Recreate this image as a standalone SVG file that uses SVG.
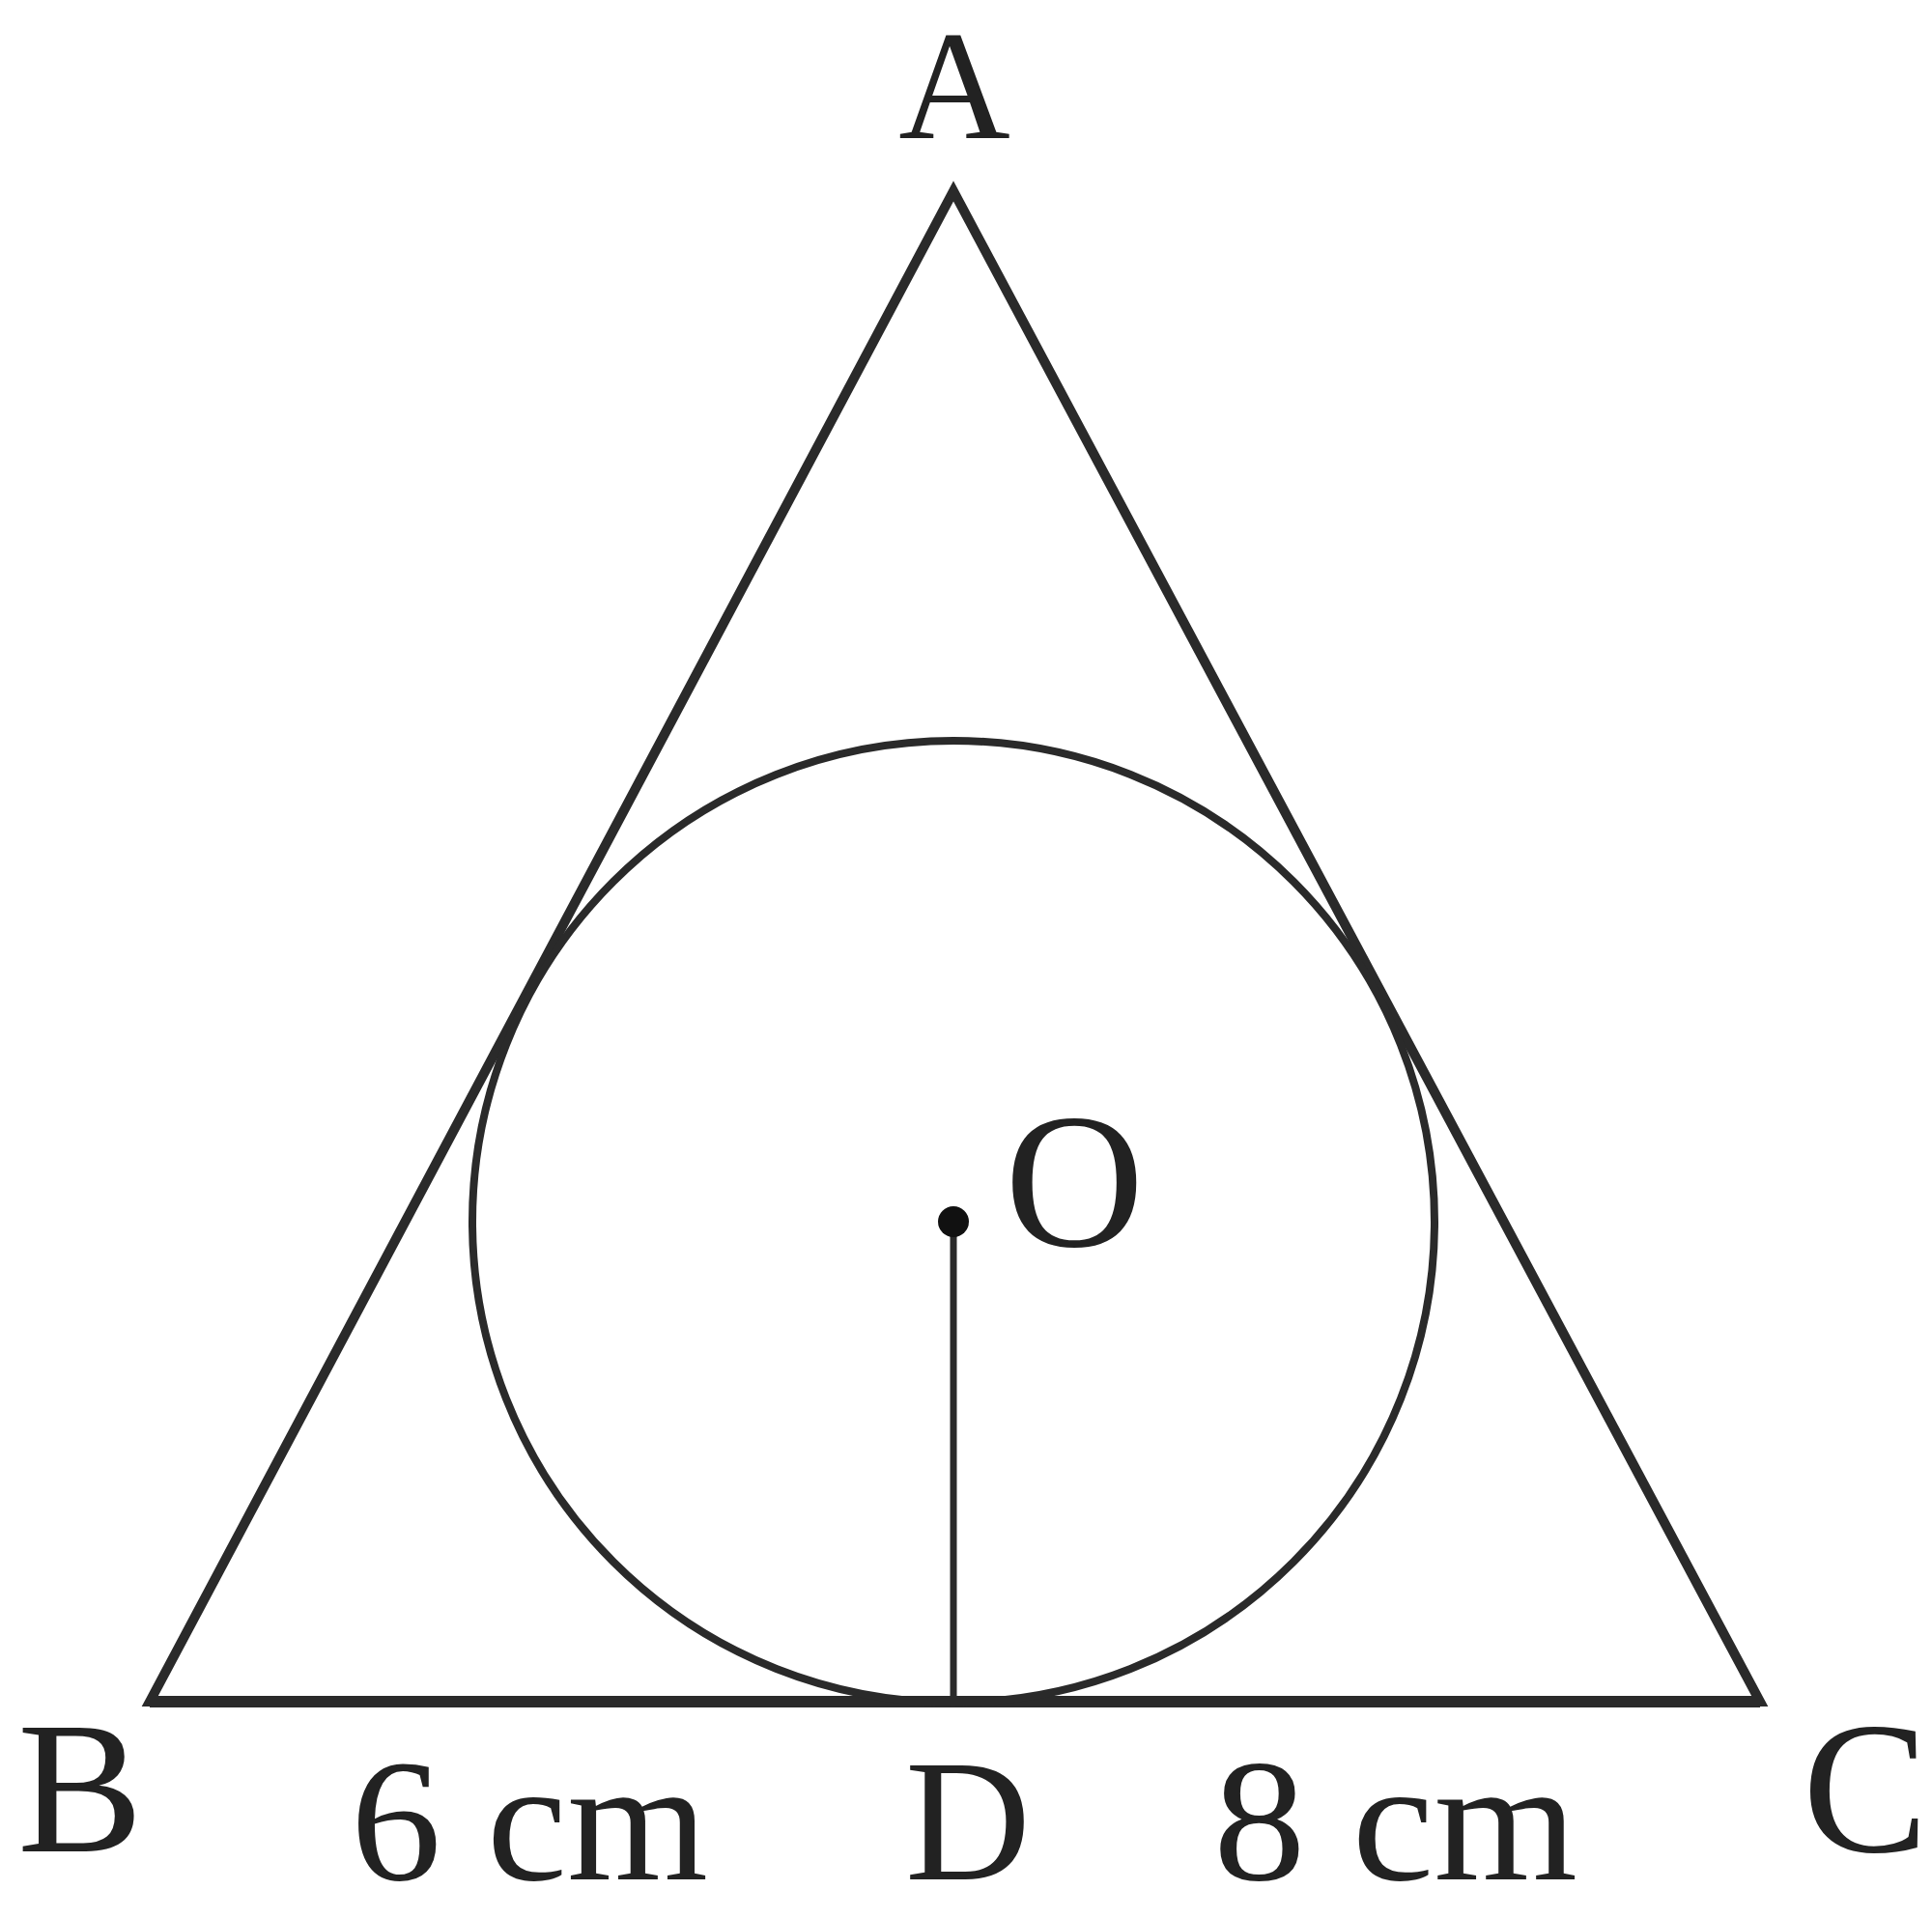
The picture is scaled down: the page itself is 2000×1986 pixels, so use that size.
<svg xmlns="http://www.w3.org/2000/svg" width="2000" height="1986" viewBox="0 0 2000 1986">
<style>
.ln{fill:none;stroke:#2a2a2a;stroke-linejoin:miter}
.lbl{font-family:"Liberation Serif","Times New Roman",serif;fill:#222}
</style>
<rect width="2000" height="1986" fill="#fff"/>
<g id="triangle">
<polygon class="ln" points="155,1762 987,198 1822,1762" stroke-width="10"/>
<line class="ln" x1="155" y1="1762" x2="1822" y2="1762" stroke-width="12"/>
</g>
<g id="incircle">
<circle class="ln" cx="987" cy="1265" r="498" stroke-width="8"/>
</g>
<g id="connectors">
<line class="ln" x1="987" y1="1265" x2="987" y2="1762" stroke-width="7"/>
</g>
<g id="O">
<circle cx="987" cy="1265" r="16" fill="#111"/>
<text class="lbl" x="1040" y="1290" font-size="200">O</text>
</g>
<g id="labels">
<text class="lbl" x="988" y="143" font-size="160" text-anchor="middle">A</text>
<text class="lbl" x="18" y="1917" font-size="195">B</text>
<text class="lbl" x="1866" y="1917" font-size="195">C</text>
<text class="lbl" x="1002" y="1946" font-size="180" text-anchor="middle">D</text>
<text class="lbl" x="363" y="1946" font-size="180" textLength="370" lengthAdjust="spacingAndGlyphs">6 cm</text>
<text class="lbl" x="1256" y="1946" font-size="180" textLength="377" lengthAdjust="spacingAndGlyphs">8 cm</text>
</g>
</svg>
